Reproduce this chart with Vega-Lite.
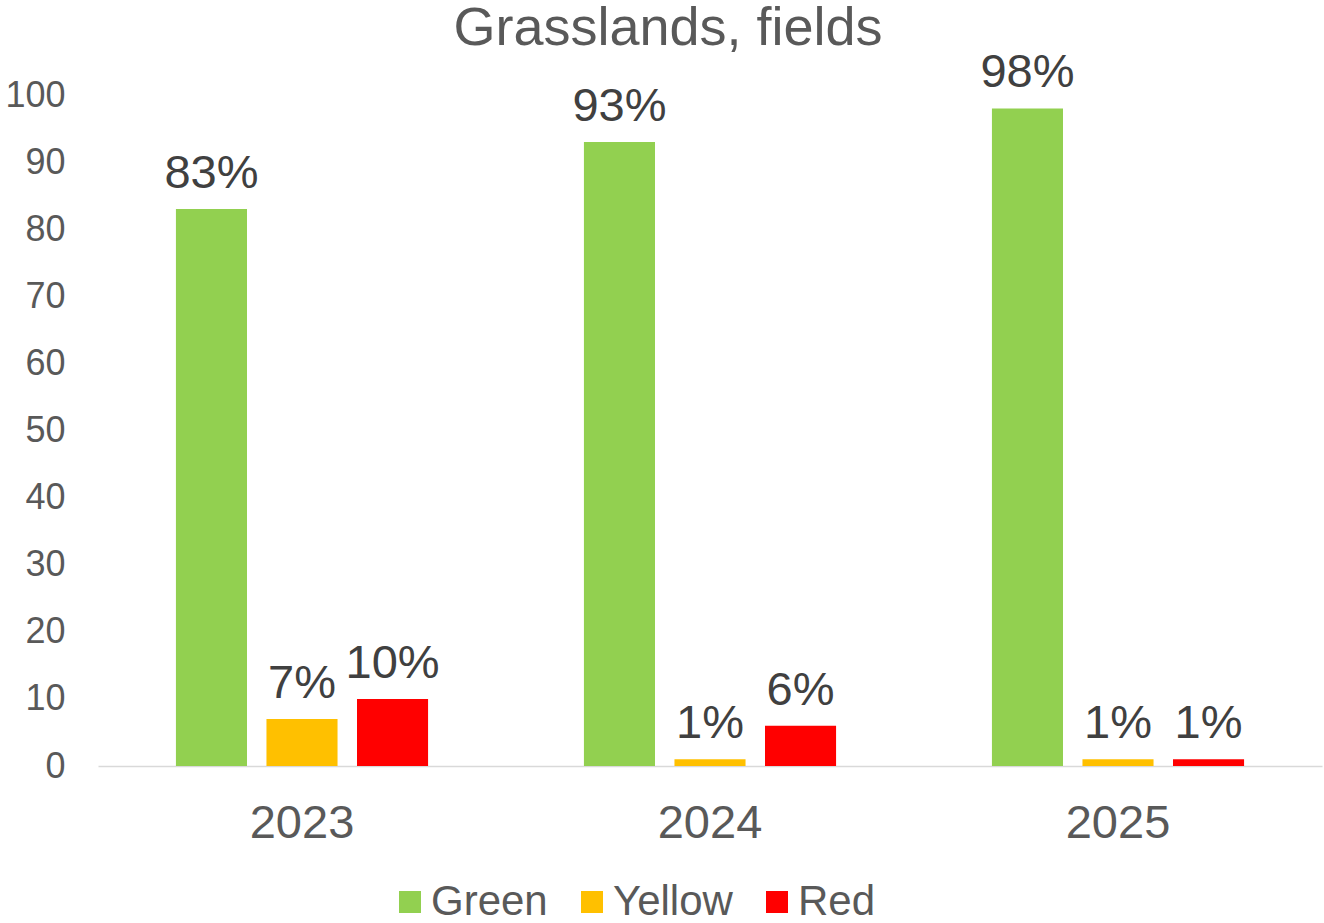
{
  "$schema": "https://vega.github.io/schema/vega-lite/v6.json",
  "width": 1224,
  "height": 671,
  "autosize": {"type": "none"},
  "padding": {"left": 98, "top": 95, "right": 2, "bottom": 157},
  "background": "white",
  "title": {
    "text": "Grasslands, fields",
    "fontSize": 54,
    "font": "Liberation Sans",
    "fontWeight": "normal",
    "color": "#595959",
    "anchor": "middle",
    "dx": -42,
    "dy": 11
  },
  "data": {
    "values": [
      {"year": "2023", "status": "Green", "value": 83, "label": "83%"},
      {"year": "2023", "status": "Yellow", "value": 7, "label": "7%"},
      {"year": "2023", "status": "Red", "value": 10, "label": "10%"},
      {"year": "2024", "status": "Green", "value": 93, "label": "93%"},
      {"year": "2024", "status": "Yellow", "value": 1, "label": "1%"},
      {"year": "2024", "status": "Red", "value": 6, "label": "6%"},
      {"year": "2025", "status": "Green", "value": 98, "label": "98%"},
      {"year": "2025", "status": "Yellow", "value": 1, "label": "1%"},
      {"year": "2025", "status": "Red", "value": 1, "label": "1%"}
    ]
  },
  "encoding": {
    "x": {
      "field": "year",
      "type": "nominal",
      "scale": {"paddingInner": 0.382, "paddingOuter": 0.191},
      "axis": {
        "title": null,
        "labelAngle": 0,
        "labelFontSize": 47,
        "labelFont": "Liberation Sans",
        "labelColor": "#595959",
        "labelPadding": 34,
        "ticks": false,
        "domainColor": "#D9D9D9",
        "domainWidth": 1.5,
        "grid": false
      }
    },
    "xOffset": {
      "field": "status",
      "type": "nominal",
      "sort": ["Green", "Yellow", "Red"],
      "scale": {"paddingInner": 0.215, "paddingOuter": 0}
    },
    "y": {
      "field": "value",
      "type": "quantitative",
      "scale": {"domain": [0, 100], "nice": false},
      "axis": {
        "title": null,
        "values": [0, 10, 20, 30, 40, 50, 60, 70, 80, 90, 100],
        "labelFontSize": 36,
        "labelFont": "Liberation Sans",
        "labelColor": "#595959",
        "labelPadding": 33,
        "ticks": false,
        "domain": false,
        "grid": false
      }
    }
  },
  "layer": [
    {
      "mark": {"type": "bar"},
      "encoding": {
        "color": {
          "field": "status",
          "type": "nominal",
          "sort": ["Green", "Yellow", "Red"],
          "scale": {"domain": ["Green", "Yellow", "Red"], "range": ["#92D050", "#FFC000", "#FF0000"]},
          "legend": {
            "title": null,
            "orient": "none",
            "direction": "horizontal",
            "legendX": 291,
            "legendY": 786,
            "symbolType": "square",
            "symbolSize": 484,
            "symbolStrokeWidth": 0,
            "labelFontSize": 42,
            "labelFont": "Liberation Sans",
            "labelColor": "#595959",
            "labelOffset": 0,
            "columnPadding": 23,
            "padding": 0
          }
        }
      }
    },
    {
      "mark": {"type": "text", "baseline": "alphabetic", "dy": -21, "fontSize": 47, "font": "Liberation Sans", "color": "#404040"},
      "encoding": {"text": {"field": "label"}}
    }
  ],
  "config": {"view": {"stroke": null}, "font": "Liberation Sans"}
}
